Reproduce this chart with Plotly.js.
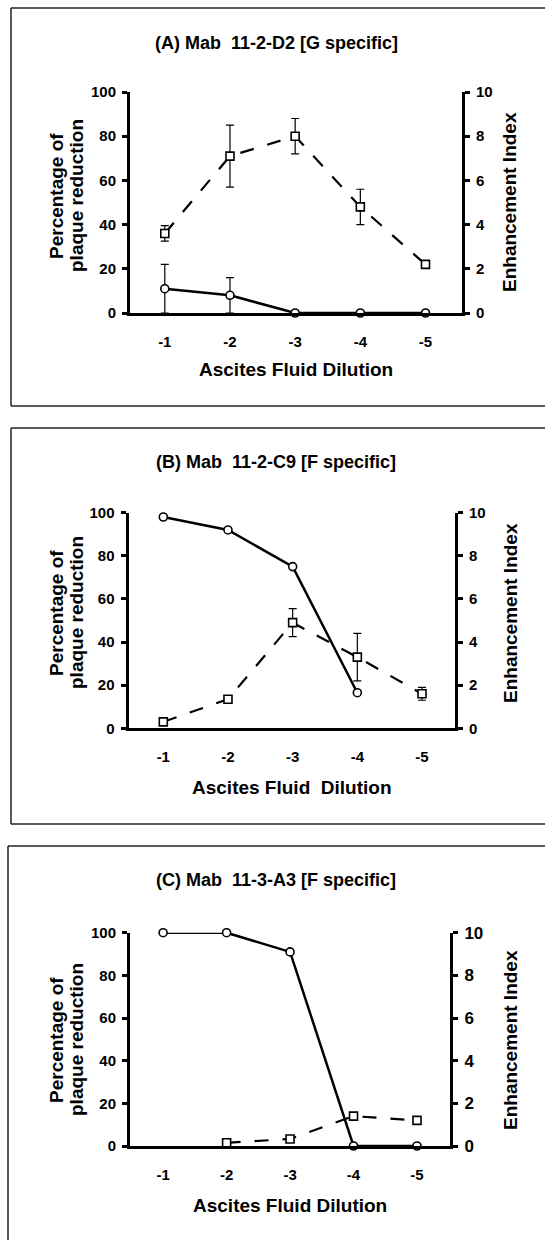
<!DOCTYPE html>
<html>
<head>
<meta charset="utf-8">
<script src="https://cdn.plot.ly/plotly-3.0.1.min.js"></script>
<style>html,body{margin:0;padding:0;background:#fff;}#chart{width:545px;height:1240px;}</style>
</head>
<body>
<div id="chart"></div>
<script>
// ---- data ----
var dilutionPos = [1, 2, 3, 4, 5];
var dilutionLabels = ['-1', '-2', '-3', '-4', '-5'];

var panelTitles = ['(A) Mab\u00a0 11-2-D2 [G specific]', '(B) Mab\u00a0 11-2-C9 [F specific]', '(C) Mab\u00a0 11-3-A3 [F specific]'];
var xTitles = ['Ascites Fluid Dilution', 'Ascites Fluid\u00a0 Dilution', 'Ascites Fluid Dilution'];
var leftTitle1 = 'Percentage of';
var leftTitle2 = 'plaque reduction';
var rightTitle = 'Enhancement Index';

// percentage of plaque reduction (circles, left axis)
var plaqueA = [11, 8, 0, 0, 0];
var plaqueErrA = [11, 8, 0, 0, 0];
var plaqueB = [98, 92, 75, 16.5, null];
var plaqueC = [100, 100, 91, 0, 0];

// enhancement index (squares, right axis)
var enhA = [3.6, 7.1, 8.0, 4.8, 2.2];
var enhErrA = [0.35, 1.4, 0.8, 0.8, 0];
var enhB = [0.3, 1.35, 4.9, 3.3, 1.6];
var enhErrB = [0, 0.15, 0.65, 1.1, 0.3];
var enhC = [null, 0.15, 0.33, 1.4, 1.2];

var leftTicks = [0, 20, 40, 60, 80, 100];
var rightTicks = [0, 2, 4, 6, 8, 10];

// ---- layout helpers ----
var W = 545, H = 1240;
function px(x) { return x / W; }
function py(y) { return 1 - y / H; }
var FONT = 'Liberation Sans, Arial, Helvetica, sans-serif';

var panels = [
  {x0: 130, x1: 462, yTop: 92, yBot: 313, range: [0.466, 5.56], titleY: 43, xTitleY: 370, lt: 196, rt: 202, tick: 15, tickR: 15, frame: [11, 8, 406]},
  {x0: 128.5, x1: 455, yTop: 512.7, yBot: 728.3, range: [0.462, 5.51], titleY: 462, xTitleY: 787, lt: 613, rt: 613, tick: 15, tickR: 15, frame: [11, 428, 824]},
  {x0: 130, x1: 450, yTop: 932.7, yBot: 1146, range: [0.478, 5.52], titleY: 880, xTitleY: 1205, lt: 1040, rt: 1040, tick: 15, tickR: 17, frame: [8, 846, 1250]}
];

var plaqueSets = [plaqueA, plaqueB, plaqueC];
var plaqueErrs = [plaqueErrA, null, null];
var enhSets = [enhA, enhB, enhC];
var enhErrs = [enhErrA, enhErrB, null];

var data = [];
var layout = {
  width: W, height: H,
  margin: {l: 0, r: 0, t: 0, b: 0},
  paper_bgcolor: '#fff', plot_bgcolor: 'rgba(0,0,0,0)',
  showlegend: false,
  font: {family: FONT, color: '#000'},
  annotations: [], shapes: []
};

panels.forEach(function (p, i) {
  var xa = i === 0 ? 'x' : 'x' + (i + 1);
  var yl = i === 0 ? 'y' : 'y' + (2 * i + 1);
  var yr = 'y' + (2 * i + 2);
  var xKey = i === 0 ? 'xaxis' : 'xaxis' + (i + 1);
  var ylKey = i === 0 ? 'yaxis' : 'yaxis' + (2 * i + 1);
  var yrKey = 'yaxis' + (2 * i + 2);
  var dom = [py(p.yBot), py(p.yTop)];

  layout[xKey] = {
    domain: [px(p.x0), px(p.x1)], anchor: yl, range: p.range,
    tickvals: dilutionPos, ticktext: dilutionLabels,
    showline: true, linewidth: 3, linecolor: '#000', mirror: false,
    ticks: '', showgrid: false, zeroline: false, ticklabelstandoff: 13,
    tickfont: {family: FONT, size: p.tick, weight: 'bold', color: '#000'}, fixedrange: true
  };
  layout[ylKey] = {
    domain: dom, anchor: xa, range: [0, 100], tickvals: leftTicks,
    showline: true, linewidth: 3, linecolor: '#000',
    ticks: 'outside', ticklen: 5, tickwidth: 3, tickcolor: '#000',
    showgrid: false, zeroline: false, ticklabelstandoff: 3,
    tickfont: {family: FONT, size: p.tick, weight: 'bold', color: '#000'}, fixedrange: true
  };
  layout[yrKey] = {
    domain: dom, anchor: xa, overlaying: yl, side: 'right', range: [0, 10], tickvals: rightTicks,
    showline: true, linewidth: 3, linecolor: '#000',
    ticks: 'outside', ticklen: 5, tickwidth: 3, tickcolor: '#000',
    showgrid: false, zeroline: false, ticklabelstandoff: 3,
    tickfont: {family: FONT, size: p.tickR, weight: 'bold', color: '#000'}, fixedrange: true
  };

  var circ = {
    x: dilutionPos, y: plaqueSets[i], xaxis: xa, yaxis: yl, type: 'scatter', mode: 'lines+markers',
    line: {color: '#000', width: 2.5}, cliponaxis: false,
    marker: {symbol: 'circle', size: 8, color: '#fff', line: {color: '#000', width: 1.6}}
  };
  if (plaqueErrs[i]) circ.error_y = {type: 'data', array: plaqueErrs[i], visible: true, color: '#000', thickness: 1.2, width: 4};
  var sq = {
    x: dilutionPos, y: enhSets[i], xaxis: xa, yaxis: yr, type: 'scatter', mode: 'lines+markers',
    line: {color: '#000', width: 2.2, dash: '14px,14px'}, cliponaxis: false,
    marker: {symbol: 'square', size: 8, color: '#fff', line: {color: '#000', width: 1.6}}
  };
  if (enhErrs[i]) sq.error_y = {type: 'data', array: enhErrs[i], visible: true, color: '#000', thickness: 1.2, width: 4};
  data.push(sq, circ);

  var cx = (p.x0 + p.x1) / 2;
  layout.annotations.push(
    {text: panelTitles[i], xref: 'paper', yref: 'paper', x: px(276), y: py(p.titleY), xanchor: 'center', yanchor: 'middle', showarrow: false,
     font: {family: FONT, size: 18, weight: 'bold', color: '#000'}},
    {text: xTitles[i], xref: 'paper', yref: 'paper', x: px(cx), y: py(p.xTitleY), xanchor: 'center', yanchor: 'middle', showarrow: false,
     font: {family: FONT, size: 19, weight: 'bold', color: '#000'}},
    {text: leftTitle1, xref: 'paper', yref: 'paper', x: px(56), y: py(p.lt), xanchor: 'center', yanchor: 'middle', showarrow: false, textangle: -90,
     font: {family: FONT, size: 19, weight: 'bold', color: '#000'}},
    {text: leftTitle2, xref: 'paper', yref: 'paper', x: px(76), y: py(p.lt), xanchor: 'center', yanchor: 'middle', showarrow: false, textangle: -90,
     font: {family: FONT, size: 19, weight: 'bold', color: '#000'}},
    {text: rightTitle, xref: 'paper', yref: 'paper', x: px(510), y: py(p.rt), xanchor: 'center', yanchor: 'middle', showarrow: false, textangle: -90,
     font: {family: FONT, size: 19, weight: 'bold', color: '#000'}}
  );

  var fx = p.frame[0], ft = p.frame[1], fb = p.frame[2];
  var ln = {color: '#222', width: 1.5};
  layout.shapes.push(
    {type: 'line', xref: 'paper', yref: 'paper', x0: px(fx), x1: 1, y0: py(ft), y1: py(ft), line: ln},
    {type: 'line', xref: 'paper', yref: 'paper', x0: px(fx), x1: px(fx), y0: py(ft), y1: py(fb), line: ln},
    {type: 'line', xref: 'paper', yref: 'paper', x0: px(fx), x1: 1, y0: py(fb), y1: py(fb), line: ln}
  );
});

Plotly.newPlot('chart', data, layout, {displayModeBar: false, staticPlot: true});
</script>
</body>
</html>
